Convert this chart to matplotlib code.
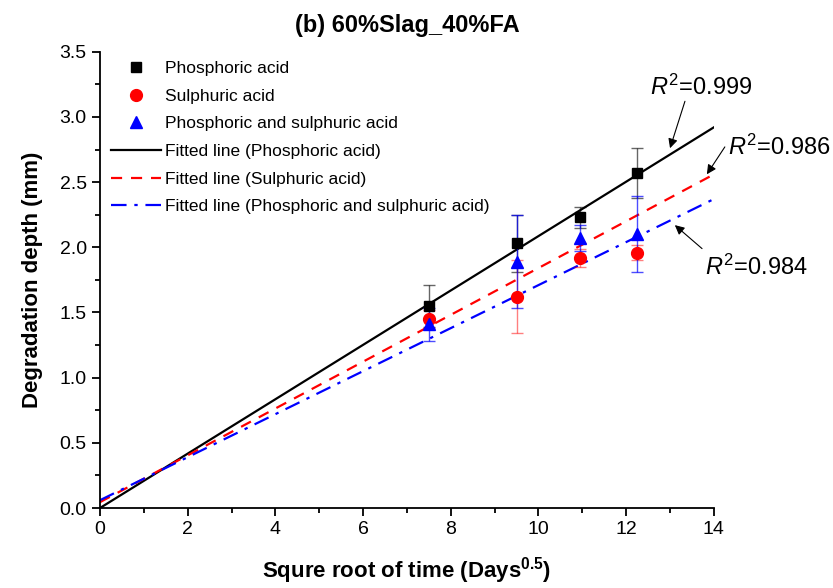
import numpy as np
import matplotlib.pyplot as plt
from matplotlib.ticker import MultipleLocator
from matplotlib.lines import Line2D
plt.switch_backend("agg")

plt.rcParams['font.family'] = ['Liberation Sans', 'DejaVu Sans']
plt.rcParams['mathtext.fontset'] = 'custom'
plt.rcParams['mathtext.rm'] = 'Liberation Sans'
plt.rcParams['mathtext.it'] = 'Liberation Sans:italic'
plt.rcParams['mathtext.bf'] = 'Liberation Sans:bold'

# data
x_time = [7.5, 9.5, 10.95, 12.25]
phos = [1.55, 2.03, 2.23, 2.57]
phos_err = [0.16, 0.22, 0.08, 0.19]
sulph = [1.45, 1.62, 1.92, 1.96]
sulph_err = [0.07, 0.28, 0.07, 0.06]
mixed = [1.41, 1.89, 2.07, 2.10]
mixed_err = [0.125, 0.355, 0.10, 0.29]

# fitted lines: intercept, slope
fit_phos = (0.0, 0.2086)
fit_sulph = (0.045, 0.1796)
fit_mixed = (0.06, 0.165)
fit_x = np.array([0, 14])

r2_labels = ["0.999", "0.986", "0.984"]

fig = plt.figure(figsize=(8.33, 5.88), dpi=100)
ax = fig.add_axes([0.120, 0.136, 0.737, 0.776])

ax.plot(fit_x, fit_phos[0] + fit_phos[1] * fit_x, color='black', lw=1.6,
        label='Fitted line (Phosphoric acid)', zorder=2)
ax.plot(fit_x, fit_sulph[0] + fit_sulph[1] * fit_x, color='red', lw=1.6,
        dashes=(5, 4), label='Fitted line (Sulphuric acid)', zorder=2)
ax.plot(fit_x, fit_mixed[0] + fit_mixed[1] * fit_x, color='blue', lw=1.6,
        dashes=(7, 3.5, 1.5, 3.5), label='Fitted line (Phosphoric and sulphuric acid)', zorder=2)

ax.errorbar(x_time, phos, yerr=phos_err, fmt='s', color='black', ms=7.5,
            ecolor=(0, 0, 0, 0.6), elinewidth=1, capsize=4, zorder=3)
ax.errorbar(x_time, sulph, yerr=sulph_err, fmt='o', color='red', ms=8.5,
            ecolor=(1, 0, 0, 0.5), elinewidth=1, capsize=4, zorder=3)
ax.errorbar(x_time, mixed, yerr=mixed_err, fmt='^', color='blue', ms=9,
            ecolor=(0, 0, 1, 0.7), elinewidth=1, capsize=4, zorder=3)

handles, labels = ax.get_legend_handles_labels()
# legend markers without error bars
mk = [Line2D([], [], ls='none', marker='s', color='black', ms=7.5),
      Line2D([], [], ls='none', marker='o', color='red', ms=8.5),
      Line2D([], [], ls='none', marker='^', color='blue', ms=9)]
leg_labels = ['Phosphoric acid', 'Sulphuric acid', 'Phosphoric and sulphuric acid'] + labels
ax.legend(mk + handles, leg_labels, loc='upper left', frameon=False, fontsize=12.5,
          handlelength=2.9, handletextpad=0.25, labelspacing=0.72,
          borderaxespad=0.0, bbox_to_anchor=(0.006, 0.995))

# R^2 annotations
arr = dict(arrowstyle='-|>', color='black', lw=0.8, mutation_scale=14, shrinkA=0, shrinkB=0)
ax.annotate('', xy=(13.0, 2.76), xytext=(13.34, 3.12), arrowprops=arr)
ax.annotate('', xy=(13.84, 2.56), xytext=(14.25, 2.77), arrowprops=arr, annotation_clip=False)
ax.annotate('', xy=(13.11, 2.17), xytext=(13.73, 1.99), arrowprops=arr)
ax.text(12.54, 3.23, r'$R^2$=' + r2_labels[0], fontsize=17, ha='left', va='center')
ax.text(14.32, 2.77, r'$R^2$=' + r2_labels[1], fontsize=17, ha='left', va='center')
ax.text(13.79, 1.85, r'$R^2$=' + r2_labels[2], fontsize=17, ha='left', va='center')

ax.set_xlim(0, 14)
ax.set_ylim(0, 3.5)
ax.xaxis.set_major_locator(MultipleLocator(2))
ax.xaxis.set_minor_locator(MultipleLocator(1))
ax.yaxis.set_major_locator(MultipleLocator(0.5))
ax.yaxis.set_minor_locator(MultipleLocator(0.25))
ax.yaxis.set_major_formatter(plt.FormatStrFormatter('%.1f'))
ax.tick_params(which='major', direction='out', length=6, width=1.3, labelsize=14)
ax.tick_params(which='minor', direction='out', length=3.5, width=1.3)
for s in ['top', 'right']:
    ax.spines[s].set_visible(False)
for s in ['left', 'bottom']:
    ax.spines[s].set_linewidth(1.3)

ax.set_title('(b) 60%Slag_40%FA', fontsize=17, fontweight='bold', pad=14)
ax.set_xlabel(r'Squre root of time (Days$^{\mathbf{0.5}}$)', fontsize=16, fontweight='bold', labelpad=12)
ax.set_ylabel('Degradation depth (mm)', fontsize=16, fontweight='bold', labelpad=12)

fig.savefig('out.png', dpi=100)
plt.close(fig)
